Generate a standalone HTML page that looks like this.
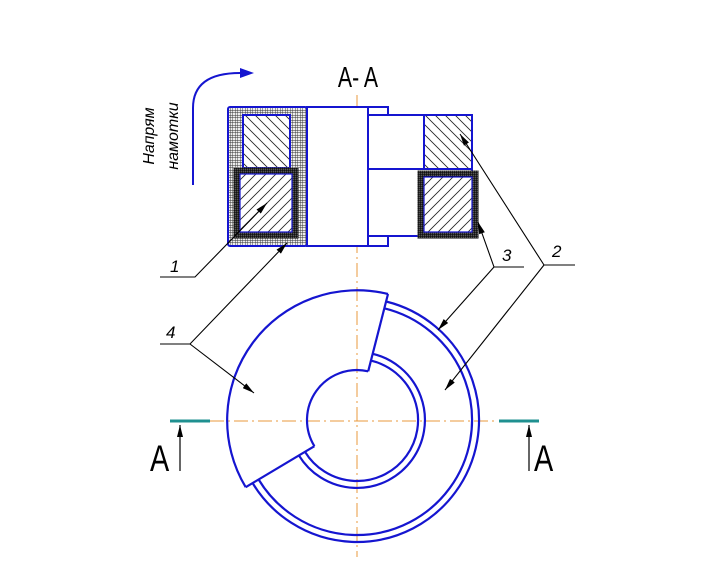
<!DOCTYPE html>
<html><head><meta charset="utf-8"><style>html,body{margin:0;padding:0;background:#fff}svg{display:block}</style></head>
<body>
<svg width="705" height="582" viewBox="0 0 705 582" xmlns="http://www.w3.org/2000/svg">
<defs>
<pattern id="grid" width="2.5" height="2.5" patternUnits="userSpaceOnUse"><rect width="2.5" height="2.5" fill="#eee"/><path d="M0 0H2.5M0 0V2.5" stroke="#333" stroke-width="0.9"/></pattern>
<pattern id="dgrid" width="2" height="2" patternUnits="userSpaceOnUse"><rect width="2" height="2" fill="#555"/><path d="M0 0H2M0 0V2" stroke="#000" stroke-width="1.1"/></pattern>
<pattern id="hb" width="10" height="10" patternUnits="userSpaceOnUse"><rect width="10" height="10" fill="#fff"/><path d="M-1 -1L11 11M-1 9L1 11M9 -1L11 1" stroke="#222" stroke-width="0.8"/></pattern>
<pattern id="hf" width="10" height="10" patternUnits="userSpaceOnUse"><rect width="10" height="10" fill="#fff"/><path d="M-1 11L11 -1M-1 1L1 -1M9 11L11 9" stroke="#222" stroke-width="0.8"/></pattern>
<marker id="ar" markerWidth="12" markerHeight="6" refX="12" refY="3" orient="auto" markerUnits="userSpaceOnUse"><path d="M0 0L12 3L0 6Z" fill="#000"/></marker>
</defs>
<g stroke="#e8993c" stroke-width="1" stroke-dasharray="14 4 2 4" fill="none">
<line x1="357" y1="95" x2="357" y2="557"/>
<line x1="210" y1="421" x2="497" y2="421"/>
</g>
<text transform="translate(358,87) scale(0.85,1.15)" font-family="Liberation Sans, sans-serif" font-size="25" text-anchor="middle">A- A</text>
<path d="M193 185V108Q193 73 240 73" stroke="#1515d0" stroke-width="2" fill="none"/>
<path d="M254 73L240 68L240 78Z" fill="#1515d0"/>
<text transform="translate(154,136) rotate(-90)" font-family="Liberation Sans, sans-serif" font-size="16" font-style="italic" text-anchor="middle">Напрям</text>
<text transform="translate(178,136) rotate(-90)" font-family="Liberation Sans, sans-serif" font-size="16" font-style="italic" text-anchor="middle">намотки</text>
<g stroke="#1515d0" stroke-width="2">
<rect x="228" y="107" width="79" height="139" fill="url(#grid)" rx="2"/>
<rect x="307" y="107" width="61" height="139" fill="#fff"/>
<path d="M368 107H388V114M388 237V246H368" fill="none"/>
<rect x="243" y="115" width="47" height="53" fill="url(#hb)"/>
<rect x="368" y="115" width="104" height="121" fill="#fff"/>
<line x1="368" y1="169" x2="472" y2="169"/>
<rect x="424" y="115" width="48" height="54" fill="url(#hb)"/>
</g>
<rect x="237" y="171" width="58" height="64" fill="url(#hf)" stroke="url(#dgrid)" stroke-width="7"/>
<rect x="240" y="174" width="52" height="58" fill="none" stroke="#1515d0" stroke-width="1.2"/>
<rect x="421" y="174" width="54" height="61" fill="url(#hf)" stroke="url(#dgrid)" stroke-width="7"/>
<rect x="424" y="177" width="48" height="55" fill="none" stroke="#1515d0" stroke-width="1.2"/>
<g stroke="#1515d0" stroke-width="2.2" fill="none">
<path d="M388 294A130 130 0 0 0 245.7 487.2"/>
<path d="M386.1 301.5A122 122 0 1 1 252.6 483.1"/>
<path d="M384.3 308.3A115 115 0 1 1 258.6 479.5"/>
<path d="M368.2 371.3A50 50 0 0 0 314.4 446.2"/>
<path d="M372.7 353.8A68 68 0 1 1 298.9 455.4"/>
<path d="M370.9 360.6A61 61 0 1 1 305 451.8"/>
<line x1="388" y1="294" x2="368.2" y2="371.3"/>
<line x1="314.4" y1="446.2" x2="245.7" y2="487.2"/>
</g>
<g stroke="#1f9090" stroke-width="3"><line x1="170" y1="421" x2="210" y2="421"/><line x1="499" y1="421" x2="539" y2="421"/></g>
<g stroke="#000" stroke-width="1.2"><line x1="180" y1="471" x2="180" y2="425" marker-end="url(#ar)"/><line x1="529" y1="471" x2="529" y2="425" marker-end="url(#ar)"/></g>
<text transform="translate(150,471) scale(0.9,1.15)" font-family="Liberation Sans, sans-serif" font-size="32">A</text>
<text transform="translate(534,471) scale(0.9,1.15)" font-family="Liberation Sans, sans-serif" font-size="32">A</text>
<g stroke="#000" stroke-width="1.1" fill="none">
<path d="M160 277H195L267 203" marker-end="url(#ar)"/>
<path d="M160 344H190L287 243" marker-end="url(#ar)"/>
<path d="M190 344L254 393" marker-end="url(#ar)"/>
<path d="M524 267H494L478 222" marker-end="url(#ar)"/>
<path d="M494 267L438 330" marker-end="url(#ar)"/>
<path d="M575 265H544L460 134" marker-end="url(#ar)"/>
<path d="M544 265L445 390" marker-end="url(#ar)"/>
</g>
<g font-family="Liberation Sans, sans-serif" font-size="17" font-style="italic">
<text x="170" y="272">1</text><text x="166" y="338">4</text><text x="502" y="261">3</text><text x="552" y="257">2</text>
</g>
</svg>
</body></html>
